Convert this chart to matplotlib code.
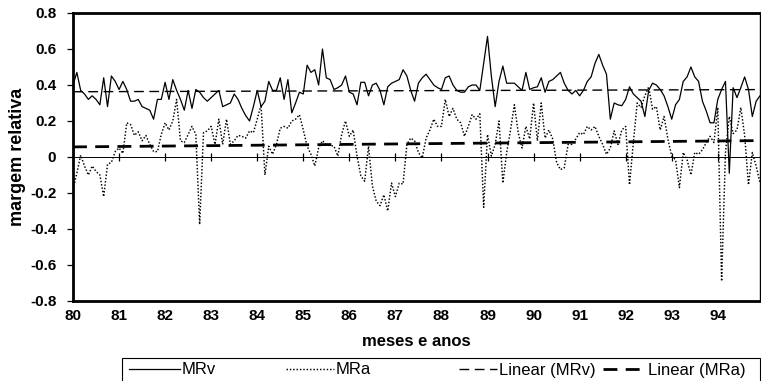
import numpy as np
import matplotlib
matplotlib.use("Agg")
import matplotlib.pyplot as plt
from matplotlib.ticker import FuncFormatter
from matplotlib.patches import Rectangle
from matplotlib.lines import Line2D

# ---- data (monthly, 1980-1994) ----
mrv_a = [0.40,0.47,0.37,0.35,0.32,0.34,0.32,0.29,0.44,0.28,
         0.45,0.42,0.375,0.42,0.375,0.31,0.31,0.32,0.28,0.27,
         0.26,0.21,0.32,0.32,0.415,0.32,0.43,0.37,0.32,0.26,
         0.37,0.27,0.375,0.36,0.33,0.31,0.33,0.35,0.37,0.28,
         0.29,0.30,0.35]
mrv_b = [0.32,0.27,0.23,0.20,0.28,0.37,0.28,0.31,0.42,0.37,
         0.37,0.44,0.32,0.43,0.245,0.30,0.36,0.35,0.51,0.47,
         0.485,0.40,0.60,0.44,0.43,0.375,0.385,0.40,0.45,0.36,
         0.35,0.29,0.415,0.415,0.34,0.40,0.41,0.37,0.29,0.39,
         0.41,0.42,0.43,0.485]
mrv_c = [0.45,0.37,0.31,0.41,0.44,0.46,0.43,0.40,0.385,0.375,
         0.44,0.45,0.40,0.37,0.36,0.36,0.39,0.40,0.40,0.37,
         0.52,0.67,0.45,0.28,0.42,0.505,0.41,0.41,0.41,0.39,
         0.37,0.47,0.375,0.385,0.39,0.44,0.36,0.42,0.43,0.45,
         0.47,0.41,0.37,0.35,0.37]
mrv_d = [0.34,0.37,0.42,0.445,0.52,0.57,0.51,0.46,0.21,0.30,
         0.29,0.285,0.32,0.39,0.35,0.33,0.31,0.225,0.37,0.41,
         0.40,0.375,0.34,0.28,0.21,0.29,0.32,0.42,0.445,0.50,
         0.445,0.42,0.31,0.255,0.19,0.19,0.32,0.375,0.42,-0.09,
         0.385,0.33,0.385,0.445,0.375,0.225,0.31,0.34]
mrv = np.array(mrv_a + mrv_b + mrv_c + mrv_d)

mra_a = [-0.18,-0.09,0.01,-0.05,-0.10,-0.05,-0.08,-0.10,-0.22,-0.04,
         -0.03,0.03,0.05,0.02,0.19,0.18,0.12,0.14,0.09,0.12,
         0.07,0.03,0.03,0.125,0.19,0.15,0.20,0.32,0.09,0.08,
         0.125,0.17,0.125,-0.375,0.135,0.145,0.17,0.07,0.21,0.07,
         0.21,0.07,0.09,0.12]
mra_b = [0.115,0.105,0.145,0.135,0.21,0.29,-0.10,0.06,0.015,0.07,
         0.16,0.17,0.16,0.20,0.21,0.235,0.15,0.06,0.015,-0.05,
         0.05,0.09,0.07,0.065,0.06,0.005,0.125,0.20,0.115,0.15,
         0.005,-0.105,-0.135,0.06,-0.16,-0.245,-0.27,-0.21,-0.30,-0.145,
         -0.22,-0.145,-0.15,0.07,0.105,0.09]
mra_c = [0.025,-0.005,0.105,0.15,0.21,0.17,0.17,0.32,0.225,0.27,
         0.21,0.19,0.115,0.17,0.235,0.21,0.24,-0.28,0.125,0.005,
         0.07,0.20,-0.145,0.025,0.15,0.29,0.135,0.05,0.17,0.10,
         0.30,0.09,0.30,0.105,0.15,0.10,-0.03,-0.07,-0.06,0.07,
         0.07,0.10,0.135]
mra_d = [0.125,0.17,0.15,0.17,0.115,0.07,0.015,0.05,0.145,0.07,
         0.15,0.17,-0.155,0.08,0.30,0.275,0.34,0.39,0.265,0.28,
         0.15,0.225,0.10,0.005,-0.015,-0.17,0.025,-0.015,-0.10,0.025,
         0.015,0.04,0.08,0.115,0.08,0.275,-0.69,0.025,0.225,0.13,
         0.15,0.275,0.12,-0.155,0.025,-0.05,-0.145]
mra = np.array(mra_a + mra_b + mra_c + mra_d)

year_labels = [str(y) for y in range(80, 95)]
y_ticks = [-0.8, -0.6, -0.4, -0.2, 0, 0.2, 0.4, 0.6, 0.8]
series_names = ['MRv', 'MRa', 'Linear (MRv)', 'Linear (MRa)']

n = min(len(mrv), len(mra))
mrv = mrv[:n]
mra = mra[:n]
months = np.arange(n)

plt.rcParams['font.family'] = ['Liberation Sans', 'DejaVu Sans']

fig = plt.figure(figsize=(7.61, 3.81), dpi=100)
ax = fig.add_axes([73/761, 1-301/381, (760-73)/761, (301-13)/381])

st_mrv = dict(color='black', lw=0.9, ls='-')
st_mra = dict(color='black', lw=1.05, ls=(0, (1, 1.3)))
st_lv = dict(color='black', lw=1.0, ls=(0, (7, 4)))
st_la = dict(color='black', lw=2.0, ls=(0, (5, 3)))

ax.plot(months, mrv, **st_mrv)
ax.plot(months, mra, **st_mra)

pv = np.polyfit(months, mrv, 1)
pa = np.polyfit(months, mra, 1)
ax.plot(months, np.polyval(pv, months), **st_lv)
ax.plot(months, np.polyval(pa, months), **st_la)

ax.axhline(0, color='black', lw=0.7)
yt = np.arange(0, n, 12)
ax.plot(yt, np.zeros_like(yt), ls='none', marker='|', ms=6, mew=0.9, color='black')

ax.set_xlim(0, n - 1)
ax.set_ylim(-0.8, 0.8)
ax.set_xticks(yt)
ax.set_xticklabels(year_labels, fontsize=11, fontweight='bold')
ax.tick_params(axis='x', length=0, pad=6)
ax.set_yticks(y_ticks)
ax.yaxis.set_major_formatter(FuncFormatter(lambda v, p: '0' if abs(v) < 1e-9 else f'{v:.1f}'))
ax.tick_params(axis='y', direction='out', length=4, width=0.9, pad=8, labelsize=11)
for t in ax.get_yticklabels():
    t.set_fontweight('bold')

for s in ['top', 'bottom', 'left']:
    ax.spines[s].set_linewidth(2.0)
ax.spines['right'].set_linewidth(1.0)

fig.text(416/761, 1-341/381, 'meses e anos', ha='center', va='center',
         fontsize=12, fontweight='bold')
fig.text(18/761, 1-157/381, 'margem relativa', ha='center', va='center',
         rotation=90, fontsize=13, fontweight='bold')

# legend box
fig.patches.append(Rectangle((122/761, -0.05), (760-122)/761, 0.05 + 1-358/381,
                             transform=fig.transFigure, fill=False,
                             edgecolor='black', lw=0.8))
styles = [st_mrv, st_mra, st_lv, st_la]
starts = [129, 286, 459, 603]
hl = [3.05, 2.9, 2.3, 2.6]
for name, stl, x0, h in zip(series_names, styles, starts, hl):
    fig.legend([Line2D([], [], **stl)], [name], loc='center left',
               bbox_to_anchor=(x0/761, 1-370/381), frameon=False,
               fontsize=12, handlelength=h, handletextpad=0.1,
               borderaxespad=0, borderpad=0)

fig.savefig('out.png', dpi=100)
